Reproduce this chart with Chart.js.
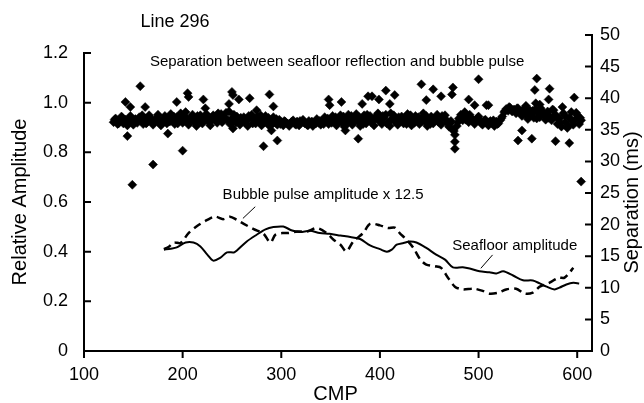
<!DOCTYPE html>
<html>
<head>
<meta charset="utf-8">
<script src="https://cdn.jsdelivr.net/npm/chart.js@4/dist/chart.umd.min.js"></script>
<style>
  body { margin: 0; background: #fff; }
  #wrap { width: 644px; height: 403px; position: relative; }
</style>
</head>
<body>
<div id="wrap"><canvas id="chart"></canvas></div>
<script>
// x axis ticks (CMP) and the two y axes
const cmpTicks = [100, 200, 300, 400, 500, 600];
const ampTicks = [0, 0.2, 0.4, 0.6, 0.8, 1.0, 1.2];
const sepTicks = [0, 5, 10, 15, 20, 25, 30, 35, 40, 45, 50];

// seafloor amplitude (solid line)
const seafloorCmp = [181, 188, 194, 203, 211, 218, 225, 231, 238, 245, 252, 255, 265, 275, 284, 292, 302, 311, 319, 329, 339, 349, 360, 370, 380, 390, 400, 407, 412, 417, 424, 430, 437, 447, 457, 466, 474, 484, 491, 501, 511, 518, 525, 535, 545, 555, 562, 569, 577, 582, 589, 596, 602];
const seafloorAmp = [0.408, 0.412, 0.417, 0.437, 0.437, 0.421, 0.388, 0.364, 0.375, 0.397, 0.397, 0.405, 0.441, 0.468, 0.490, 0.499, 0.501, 0.485, 0.479, 0.484, 0.475, 0.472, 0.465, 0.459, 0.451, 0.425, 0.410, 0.400, 0.408, 0.428, 0.435, 0.441, 0.437, 0.415, 0.388, 0.368, 0.337, 0.337, 0.332, 0.321, 0.317, 0.312, 0.321, 0.304, 0.285, 0.284, 0.272, 0.259, 0.248, 0.255, 0.268, 0.275, 0.272];

// bubble pulse amplitude x 12.5 (dashed line)
const bubbleCmp = [181, 186, 191, 198, 206, 215, 225, 233, 241, 248, 255, 262, 272, 282, 289, 294, 301, 307, 316, 326, 336, 346, 353, 360, 366, 373, 383, 390, 400, 408, 415, 420, 427, 434, 441, 447, 456, 462, 469, 476, 484, 495, 505, 511, 520, 528, 538, 547, 555, 562, 572, 581, 587, 592, 596];
const bubbleAmp = [0.410, 0.420, 0.437, 0.435, 0.475, 0.504, 0.528, 0.541, 0.531, 0.541, 0.528, 0.512, 0.491, 0.472, 0.437, 0.468, 0.475, 0.475, 0.481, 0.481, 0.495, 0.475, 0.448, 0.428, 0.401, 0.441, 0.475, 0.512, 0.506, 0.495, 0.497, 0.475, 0.448, 0.415, 0.368, 0.348, 0.341, 0.335, 0.295, 0.259, 0.248, 0.251, 0.241, 0.231, 0.235, 0.248, 0.251, 0.231, 0.235, 0.259, 0.275, 0.295, 0.295, 0.315, 0.335];

// separation between seafloor reflection and bubble pulse (diamonds, ms)
const sepCmp = [
  130, 132, 134, 136, 138, 140, 142, 144, 146, 148, 150, 152, 154, 156, 158, 160, 162, 164, 166, 168,
  170, 172, 174, 176, 178, 180, 182, 184, 186, 188, 190, 192, 194, 196, 198, 200, 202, 204, 206, 208,
  210, 212, 214, 216, 218, 220, 222, 224, 226, 228, 230, 232, 234, 236, 238, 240, 242, 244, 246, 248,
  250, 252, 254, 256, 258, 260, 262, 264, 266, 268, 270, 272, 274, 276, 278, 280, 282, 284, 286, 288,
  290, 292, 294, 296, 298, 300, 302, 304, 306, 308, 310, 312, 314, 316, 318, 320, 322, 324, 326, 328,
  330, 332, 334, 336, 338, 340, 342, 344, 346, 348, 350, 352, 354, 356, 358, 360, 362, 364, 366, 368,
  370, 372, 374, 376, 378, 380, 382, 384, 386, 388, 390, 392, 394, 396, 398, 400, 402, 404, 406, 408,
  410, 412, 414, 416, 418, 420, 422, 424, 426, 428, 430, 432, 434, 436, 438, 440, 442, 444, 446, 448,
  450, 452, 454, 456, 458, 460, 462, 464, 466, 468, 470, 472, 474, 476, 478, 480, 482, 484, 486, 488,
  490, 492, 494, 496, 498, 500, 502, 504, 506, 508, 510, 512, 514, 516, 518, 520, 522, 524, 526, 528,
  530, 532, 534, 536, 538, 540, 542, 544, 546, 548, 550, 552, 554, 556, 558, 560, 562, 564, 566, 568,
  570, 572, 574, 576, 578, 580, 582, 584, 586, 588, 590, 592, 594, 596, 598, 600, 602, 604,
  142, 144, 147, 149, 157, 162, 170, 185, 194, 200, 205, 206, 221, 223, 247, 250, 251, 251, 257, 268,
  275, 282, 288, 290, 292, 296, 348, 349, 361, 365, 378, 382, 388, 392, 399, 406, 410, 415, 442, 447,
  454, 462, 473, 474, 476, 476, 490, 496, 500, 508, 510, 540, 544, 548, 554, 557, 558, 559, 562, 571,
  572, 578, 585, 592, 597, 604
];
const sepMs = [
  36.2, 36.8, 35.9, 36.5, 37.1, 36.0, 36.6, 35.7, 36.9, 36.3, 35.8, 36.7, 36.1, 37.0, 36.4, 35.9, 36.8, 36.2, 37.3, 36.5,
  35.8, 36.4, 37.0, 36.2, 35.7, 36.6, 37.2, 36.0, 36.8, 37.5, 36.3, 35.9, 37.0, 36.5, 37.6, 36.1, 37.2, 36.6, 35.8, 36.9,
  37.4, 36.2, 35.6, 36.7, 37.3, 36.0, 36.8, 37.5, 36.3, 35.7, 36.6, 37.1, 36.4, 37.6, 36.9, 36.2, 37.0, 37.7, 36.5, 35.9,
  36.8, 37.4, 36.1, 36.7, 35.8, 36.4, 37.0, 36.3, 35.6, 36.9, 37.4, 36.6, 36.0, 37.1, 36.4, 35.7, 36.5, 37.2, 36.3, 35.6,
  36.4, 37.0, 36.1, 35.8, 36.6, 36.2, 35.7, 36.3, 36.0, 35.6, 36.2, 36.5, 35.9, 36.3, 35.7, 36.1, 36.6, 36.0, 35.8, 36.4,
  36.0, 35.6, 36.2, 36.7, 36.1, 35.8, 36.5, 37.0, 36.3, 35.9, 36.6, 37.2, 36.4, 35.7, 36.8, 37.3, 36.1, 35.5, 36.6, 37.4,
  36.2, 35.8, 36.9, 37.5, 36.3, 35.6, 36.7, 37.3, 36.0, 36.6, 37.2, 36.4, 35.7, 36.8, 37.6, 36.3, 35.9, 36.9, 37.4, 36.1,
  35.6, 36.7, 37.3, 36.4, 35.8, 36.5, 37.1, 36.0, 36.8, 37.5, 36.2, 35.7, 36.6, 37.2, 36.4, 35.9, 36.8, 37.6, 36.3, 35.6,
  36.5, 37.1, 36.0, 36.7, 37.4, 36.2, 35.8, 36.9, 37.3, 36.1, 35.5, 36.4, 35.0, 34.2, 35.6, 36.8, 37.4, 36.5, 37.8, 36.9,
  36.2, 37.0, 36.4, 35.9, 36.6, 37.1, 36.3, 35.8, 36.5, 36.1, 35.7, 36.4, 36.0, 35.6, 36.3, 36.0, 36.5, 37.1, 37.8, 38.3,
  38.0, 38.5, 37.9, 38.2, 37.6, 38.4, 37.8, 37.2, 38.0, 37.4, 36.7, 38.1, 37.5, 36.9, 38.3, 37.7, 37.0, 38.0, 37.3, 36.6,
  37.9, 37.2, 36.5, 38.1, 37.4, 35.9, 36.8, 35.5, 37.6, 36.2, 35.3, 36.9, 37.8, 35.8, 36.6, 37.3, 35.9, 36.5,
  39.4, 34.0, 38.6, 26.3, 41.9, 38.6, 29.5, 34.4, 39.4, 31.7, 40.8, 40.2, 39.8, 38.4, 39.1, 41.0, 40.5, 35.2, 39.8, 40.0,
  38.1, 32.4, 40.6, 34.9, 38.7, 33.3, 39.8, 38.9, 39.4, 34.9, 33.6, 39.1, 40.3, 40.3, 39.8, 41.2, 39.1, 40.5, 42.2, 39.7,
  41.4, 40.3, 40.6, 41.7, 33.1, 32.0, 39.8, 38.9, 43.0, 38.9, 38.9, 33.3, 34.9, 38.8, 33.6, 41.3, 39.2, 43.1, 39.0, 39.8,
  41.5, 33.2, 38.6, 32.9, 40.1, 26.8
];
// extra traces in between, which thicken the band
const sepCmpFill = [
  131, 135, 139, 143, 147, 151, 155, 159, 163, 167,
  171, 175, 179, 183, 187, 191, 195, 199, 203, 207,
  211, 215, 219, 223, 227, 231, 235, 239, 243, 247,
  251, 255, 259, 263, 267, 271, 275, 279, 283, 287,
  291, 295, 299, 303, 307, 311, 315, 319, 323, 327,
  331, 335, 339, 343, 347, 351, 355, 359, 363, 367,
  371, 375, 379, 383, 387, 391, 395, 399, 403, 407,
  411, 415, 419, 423, 427, 431, 435, 439, 443, 447,
  451, 455, 459, 463, 467, 471, 475, 479, 483, 487,
  491, 495, 499, 503, 507, 511, 515, 519, 523, 527,
  531, 535, 539, 543, 547, 551, 555, 559, 563, 567,
  571, 575, 579, 583, 587, 591, 595, 599, 603
];
const sepMsFill = [
  36.6, 36.0, 36.9, 36.3, 37.2, 36.1, 36.7, 37.3, 36.0, 36.9,
  36.4, 37.4, 36.1, 36.8, 36.3, 37.1, 36.0, 36.9, 37.8, 36.4,
  36.9, 37.2, 36.3, 37.0, 36.6, 37.3, 36.1, 37.5, 36.7, 37.9,
  36.4, 37.1, 36.9, 36.2, 37.2, 36.0, 36.8, 37.3, 36.2, 36.9,
  35.9, 36.7, 35.9, 36.4, 35.9, 36.3, 35.8, 36.4, 36.2, 35.7,
  36.3, 36.0, 36.4, 35.9, 36.8, 36.1, 37.0, 36.3, 37.1, 36.0,
  37.2, 36.4, 37.0, 35.9, 37.4, 36.2, 37.0, 36.5, 37.2, 36.0,
  37.6, 36.3, 37.0, 36.6, 35.9, 37.3, 36.1, 37.0, 36.4, 37.2,
  35.9, 36.8, 36.3, 37.2, 36.6, 36.0, 34.8, 36.2, 37.0, 36.6,
  37.4, 36.3, 36.9, 36.0, 36.6, 36.2, 36.5, 35.9, 36.8, 38.0,
  38.6, 38.1, 38.4, 37.6, 38.5, 37.3, 38.0, 36.8, 38.4, 37.5,
  36.9, 38.2, 37.0, 36.1, 37.3, 35.6, 36.4, 37.7, 36.9
];

const FONT = "'Liberation Sans', Arial, sans-serif";

function toPoints(xs, ys) {
  return xs.map((x, i) => ({ x: x, y: ys[i] }));
}

// axis lines, tick marks and the free text, all placed through the scales
const decorations = {
  id: "decorations",
  afterDraw(chart) {
    const { ctx, chartArea } = chart;
    const x = chart.scales.x;
    const yAmp = chart.scales.yAmp;
    const ySep = chart.scales.ySep;
    const tick = 7;

    ctx.save();
    ctx.strokeStyle = "#000";
    ctx.lineWidth = 2;
    ctx.lineCap = "butt";

    // left axis: 0 to 1.2, ticks inward
    const lx = chartArea.left;
    ctx.beginPath();
    ctx.moveTo(lx, yAmp.getPixelForValue(0) + 1);
    ctx.lineTo(lx, yAmp.getPixelForValue(1.2) - 1);
    ampTicks.forEach(v => {
      const py = yAmp.getPixelForValue(v);
      ctx.moveTo(lx, py);
      ctx.lineTo(lx + tick, py);
    });
    ctx.stroke();

    // right axis: 0 to 50, ticks inward
    const rx = chartArea.right;
    ctx.beginPath();
    ctx.moveTo(rx, ySep.getPixelForValue(0) + 1);
    ctx.lineTo(rx, ySep.getPixelForValue(50) - 1);
    sepTicks.forEach(v => {
      const py = ySep.getPixelForValue(v);
      ctx.moveTo(rx, py);
      ctx.lineTo(rx - tick, py);
    });
    ctx.stroke();

    // bottom axis, ticks outward
    const by = chartArea.bottom;
    ctx.beginPath();
    ctx.moveTo(lx - 1, by);
    ctx.lineTo(rx + 1, by);
    cmpTicks.forEach(v => {
      const px = x.getPixelForValue(v);
      ctx.moveTo(px, by);
      ctx.lineTo(px, by + tick);
    });
    ctx.stroke();

    // leader lines for the labels
    ctx.lineWidth = 1;
    ctx.beginPath();
    ctx.moveTo(x.getPixelForValue(273.6), yAmp.getPixelForValue(0.581));
    ctx.lineTo(x.getPixelForValue(261.1), yAmp.getPixelForValue(0.534));
    ctx.moveTo(x.getPixelForValue(514.2), yAmp.getPixelForValue(0.387));
    ctx.lineTo(x.getPixelForValue(502.3), yAmp.getPixelForValue(0.333));
    ctx.stroke();

    ctx.fillStyle = "#000";
    ctx.textAlign = "center";
    ctx.textBaseline = "middle";

    ctx.font = "15px " + FONT;
    ctx.fillText("Separation between seafloor reflection and bubble pulse",
      x.getPixelForValue(356.6), yAmp.getPixelForValue(1.164));
    ctx.fillText("Bubble pulse amplitude x 12.5",
      x.getPixelForValue(342.4), yAmp.getPixelForValue(0.628));
    ctx.fillText("Seafloor amplitude",
      x.getPixelForValue(536.7), yAmp.getPixelForValue(0.423));

    ctx.font = "18px " + FONT;
    ctx.fillText("Line 296", 175, 22);

    ctx.font = "20px " + FONT;
    ctx.fillText("CMP", x.getPixelForValue(355), 394);

    ctx.save();
    ctx.translate(20, yAmp.getPixelForValue(0.6));
    ctx.rotate(-Math.PI / 2);
    ctx.fillText("Relative Amplitude", 0, 0);
    ctx.restore();

    ctx.save();
    ctx.translate(632, ySep.getPixelForValue(23.5));
    ctx.rotate(-Math.PI / 2);
    ctx.fillText("Separation (ms)", 0, 0);
    ctx.restore();

    ctx.restore();
  }
};

new Chart(document.getElementById("chart"), {
  type: "scatter",
  data: {
    datasets: [
      {
        label: "Separation",
        data: toPoints(sepCmp, sepMs).concat(toPoints(sepCmpFill, sepMsFill)),
        yAxisID: "ySep",
        pointStyle: "rectRot",
        pointRadius: 4.5,
        backgroundColor: "#000",
        borderColor: "#000",
        borderWidth: 0.5
      },
      {
        type: "line",
        label: "Seafloor amplitude",
        data: toPoints(seafloorCmp, seafloorAmp),
        yAxisID: "yAmp",
        borderColor: "#000",
        borderWidth: 2,
        pointRadius: 0,
        tension: 0.3,
        fill: false
      },
      {
        type: "line",
        label: "Bubble pulse amplitude x 12.5",
        data: toPoints(bubbleCmp, bubbleAmp),
        yAxisID: "yAmp",
        borderColor: "#000",
        borderWidth: 2.5,
        borderDash: [8, 5],
        pointRadius: 0,
        tension: 0.3,
        fill: false
      }
    ]
  },
  options: {
    responsive: true,
    maintainAspectRatio: false,
    animation: false,
    layout: { padding: { top: 35, left: 0, right: 0, bottom: 0 } },
    plugins: {
      legend: { display: false },
      tooltip: { enabled: false }
    },
    scales: {
      x: {
        type: "linear",
        min: 100,
        max: 615,
        afterBuildTicks: s => { s.ticks = cmpTicks.map(v => ({ value: v })); },
        afterFit: s => { s.height = 52; },
        grid: { display: false, drawTicks: false },
        border: { display: false },
        ticks: {
          padding: 13,
          color: "#000",
          font: { family: FONT, size: 18 }
        }
      },
      yAmp: {
        type: "linear",
        position: "left",
        min: 0,
        max: 1.2725,
        afterBuildTicks: s => { s.ticks = ampTicks.map(v => ({ value: v })); },
        afterFit: s => { s.width = 84; },
        grid: { display: false, drawTicks: false },
        border: { display: false },
        ticks: {
          padding: 16,
          color: "#000",
          font: { family: FONT, size: 18 },
          callback: v => (v === 0 ? "0" : v.toFixed(1))
        }
      },
      ySep: {
        type: "linear",
        position: "right",
        min: 0,
        max: 50,
        afterBuildTicks: s => { s.ticks = sepTicks.map(v => ({ value: v })); },
        afterFit: s => { s.width = 52; },
        grid: { display: false, drawTicks: false },
        border: { display: false },
        ticks: {
          padding: 8,
          color: "#000",
          font: { family: FONT, size: 18 }
        }
      }
    }
  },
  plugins: [decorations]
});
</script>
</body>
</html>
